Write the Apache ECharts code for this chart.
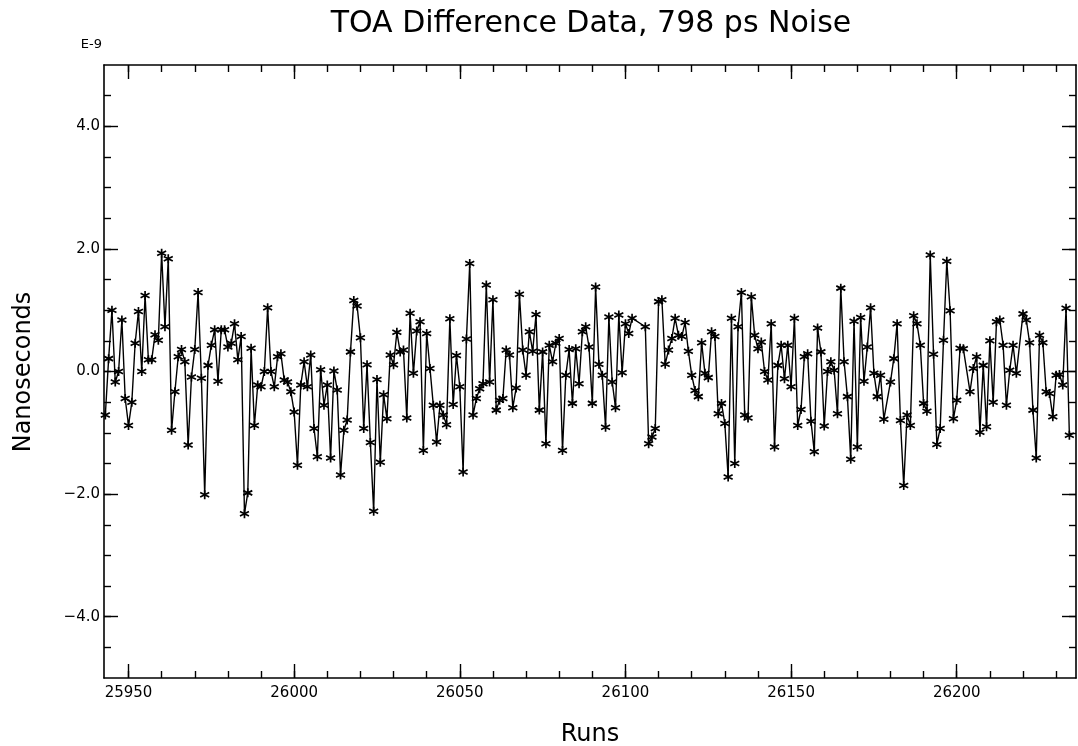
<!DOCTYPE html>
<html><head><meta charset="utf-8">
<script src="https://cdn.jsdelivr.net/npm/echarts@6/dist/echarts.min.js"></script>
<style>html,body{margin:0;padding:0;background:#fff}#c{width:1078px;height:746px}</style>
</head><body><div id="c"></div>
<script>
// ---- data ----
const runStart = 25943; // first run number, one value per run (null = missing run)
const values = [
  -0.71,0.21,1.0,-0.17,0.0,0.84,-0.44,-0.88,-0.5,0.46,
  0.98,0.0,1.24,0.19,0.19,0.6,0.51,1.93,0.73,1.84,
  -0.96,-0.33,0.24,0.36,0.16,-1.2,-0.09,0.36,1.29,-0.11,
  -2.01,0.1,0.43,0.68,-0.16,0.68,0.68,0.4,0.46,0.78,
  0.19,0.57,-2.32,-1.98,0.38,-0.88,-0.22,-0.25,0.0,1.04,
  0.0,-0.25,0.24,0.29,-0.14,-0.17,-0.33,-0.66,-1.53,-0.22,
  0.16,-0.25,0.27,-0.93,-1.39,0.03,-0.55,-0.22,-1.41,0.01,
  -0.3,-1.69,-0.96,-0.79,0.32,1.16,
  1.07,0.55,-0.93,0.11,-1.16,-2.28,-0.13,-1.48,-0.38,-0.77,
  0.27,0.11,0.64,0.32,0.35,-0.76,0.95,-0.03,0.66,0.81,
  -1.29,0.62,0.05,-0.55,-1.15,-0.55,-0.71,-0.87,0.86,-0.54,
  0.26,-0.25,-1.64,0.53,1.76,-0.71,-0.44,-0.28,-0.20,1.41,
  -0.17,1.17,-0.63,-0.47,-0.44,0.35,0.27,-0.59,-0.27,1.26,
  0.35,-0.06,0.65,0.33,0.93,-0.63,0.32,-1.18,0.43,0.16,
  0.46,0.54,-1.29,-0.06,0.36,-0.52,0.37,-0.20,0.65,
  0.73,0.40,-0.52,1.38,0.12,-0.06,-0.91,0.89,-0.17,-0.59,
  0.92,-0.02,0.78,0.62,0.87,null,null,null,0.73,-1.18,
  -1.07,-0.93,1.14,1.17,0.12,0.35,0.54,0.87,0.59,0.57,
  0.80,0.33,-0.06,-0.31,-0.41,0.47,-0.03,-0.10,0.65,0.57,
  -0.69,-0.52,-0.85,-1.72,0.87,-1.50,0.73,1.29,-0.71,-0.76,
  1.22,0.59,0.37,0.48,0.0,-0.14,0.78,-1.23,0.10,0.43,
  -0.12,0.43,-0.25,0.87,-0.88,-0.62,0.24,0.29,-0.81,-1.31,
  0.71,0.32,
  -0.89,0.0,0.16,0.02,-0.69,1.36,0.16,-0.41,-1.43,0.82,
  -1.23,0.88,-0.16,0.40,1.04,-0.03,-0.41,-0.06,-0.78,null,
  -0.17,0.21,0.78,-0.80,-1.86,-0.71,-0.88,0.91,0.78,0.43,
  -0.52,-0.65,1.90,0.28,-1.19,-0.93,0.51,1.80,0.99,-0.77,
  -0.47,0.38,0.37,null,-0.33,0.05,0.24,-0.99,0.10,-0.90,
  0.50,-0.50,0.81,0.84,0.43,-0.55,0.02,0.43,-0.03,null,
  0.94,0.84,0.47,-0.63,-1.41,0.59,0.47,-0.33,-0.36,-0.74,
  -0.06,-0.05,-0.22,1.03,-1.04
];
const xMajorTicks = [25950, 26000, 26050, 26100, 26150, 26200];
const yMajorTicks = [-4, -2, 0, 2, 4];
const titleText = 'TOA Difference Data, 798 ps Noise';
const xName = 'Runs';
const yName = 'Nanoseconds';
const exponentText = 'E-9';

// minor tick positions (every 10 runs / every 0.5 ns)
const xMinorTicks = [];
for (let v = 25950; v <= 26230; v += 10) xMinorTicks.push(v);
const yMinorTicks = [];
for (let v = -4.5; v <= 4.5001; v += 0.5) yMinorTicks.push(Math.round(v * 10) / 10);

const seriesData = values.map((v, i) => [runStart + i, v]);

const FONT = 'DejaVu Sans';
const X_MIN = 25942.6, X_MAX = 26236, Y_MIN = -5, Y_MAX = 5;
const LINE = { show: true, onZero: false, lineStyle: { color: '#000', width: 1.6 } };

function xAx(pos, ticks, len, showLine, labels) {
  return {
    type: 'value', position: pos, min: X_MIN, max: X_MAX,
    axisLine: showLine ? LINE : { show: false, onZero: false },
    axisTick: { show: true, inside: true, length: len, customValues: ticks,
                lineStyle: { color: '#000', width: 1.4 } },
    axisLabel: labels ? { show: true, customValues: labels, color: '#000',
                fontFamily: FONT, fontSize: 15, margin: 8,
                formatter: v => String(Math.round(v)) } : { show: false },
    splitLine: { show: false }
  };
}
function yAx(pos, ticks, len, showLine, labels) {
  return {
    type: 'value', position: pos, min: Y_MIN, max: Y_MAX,
    axisLine: showLine ? LINE : { show: false, onZero: false },
    axisTick: { show: true, inside: true, length: len, customValues: ticks,
                lineStyle: { color: '#000', width: 1.4 } },
    axisLabel: labels ? { show: true, customValues: labels, color: '#000',
                fontFamily: FONT, fontSize: 15, margin: 4,
                formatter: v => v.toFixed(1).replace('-', '\u2212') } : { show: false },
    splitLine: { show: false }
  };
}

const chart = echarts.init(document.getElementById('c'));
chart.setOption({
  animation: false,
  backgroundColor: '#fff',
  grid: { left: 104, right: 2, top: 65, bottom: 68 },
  xAxis: [
    xAx('bottom', xMinorTicks, 7, true, xMajorTicks),
    xAx('bottom', xMajorTicks, 14, false, null),
    xAx('top', xMinorTicks, 7, true, null),
    xAx('top', xMajorTicks, 14, false, null)
  ],
  yAxis: [
    yAx('left', yMinorTicks, 7, true, yMajorTicks),
    yAx('left', yMajorTicks, 14, false, null),
    yAx('right', yMinorTicks, 7, true, null),
    yAx('right', yMajorTicks, 14, false, null)
  ],
  graphic: [
    { type: 'text', x: 591, y: 24,
      style: { text: titleText, font: '30px "DejaVu Sans"', fill: '#000',
               textAlign: 'center', textVerticalAlign: 'middle' } },
    { type: 'text', x: 102, y: 45,
      style: { text: exponentText, font: '13px "DejaVu Sans"', fill: '#000',
               textAlign: 'right', textVerticalAlign: 'middle' } },
    { type: 'text', x: 590, y: 735,
      style: { text: xName, font: '24px "DejaVu Sans"', fill: '#000',
               textAlign: 'center', textVerticalAlign: 'middle' } },
    { type: 'text', x: 24, y: 372, rotation: Math.PI / 2,
      style: { text: yName, font: '24px "DejaVu Sans"', fill: '#000',
               textAlign: 'center', textVerticalAlign: 'middle' } }
  ],
  series: [{
    type: 'line', xAxisIndex: 0, yAxisIndex: 0,
    data: seriesData, connectNulls: true,
    symbol: 'path://M5,0L5,10M0.67,2.5L9.33,7.5M0.67,7.5L9.33,2.5',
    symbolSize: 9, showAllSymbol: true,
    lineStyle: { color: '#000', width: 1.4 },
    itemStyle: { color: '#000', borderColor: '#000', borderWidth: 1.7 }
  }]
});
</script></body></html>
